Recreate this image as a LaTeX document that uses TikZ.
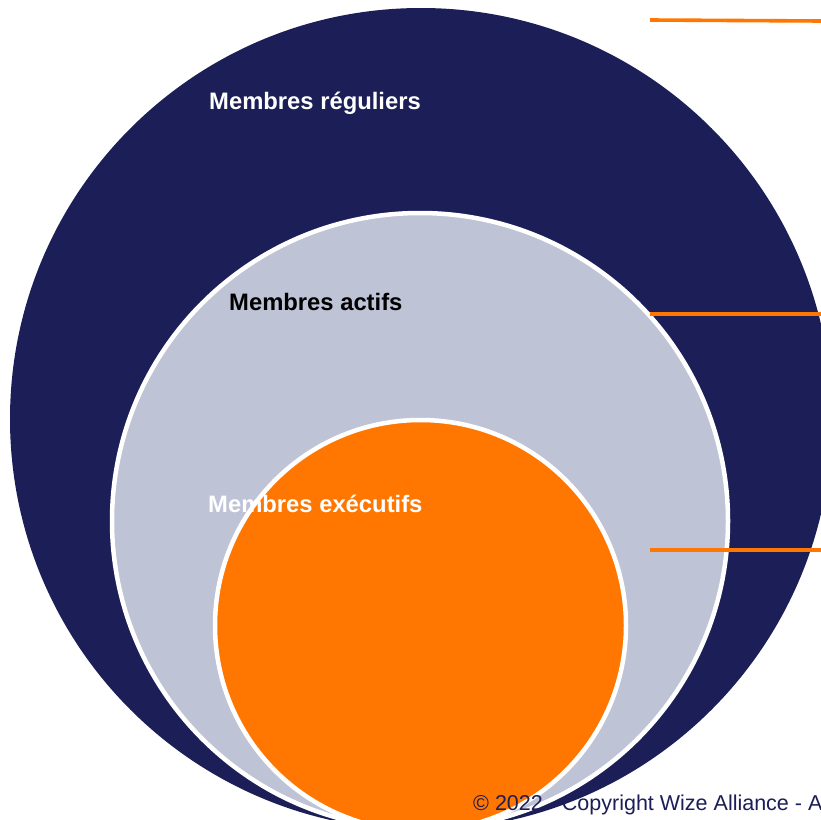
\documentclass[tikz,border=0pt]{standalone}
\usepackage{fontspec}
\setmainfont{Liberation Sans}
\definecolor{navy}{RGB}{27,30,87}
\definecolor{lav}{RGB}{190,195,214}
\definecolor{orng}{RGB}{255,119,0}
\tikzset{
  ring/.style={circle, inner sep=0pt, outer sep=0pt},
  lbl/.style={anchor=base west, inner sep=0pt, font=\fontsize{23.8}{28}\selectfont\bfseries},
  tick/.style={draw=orng, line width=3.6pt}
}
\begin{document}
\begin{tikzpicture}[x=1pt,y=-1pt]
\useasboundingbox (0,0) rectangle (821,819);
\clip (0,0) rectangle (821,819);
\fill[white] (0,0) rectangle (821,819);
\node[ring, fill=navy, minimum size=822pt] (outer) at (421,419) {};
\node[ring, fill=lav, draw=white, line width=4.5pt, minimum size=616pt] (middle) at (420,521) {};
\node[ring, fill=orng, draw=white, line width=4.5pt, minimum size=411pt] (inner) at (420.5,625.5) {};
\node[lbl, text=white] (treg) at (209,109) {Membres réguliers};
\node[lbl, text=black] (tact) at (229,310) {Membres actifs};
\node[lbl, text=white] (texe) at (208,512) {Membres exécutifs};
\coordinate (a1) at (650,20);
\coordinate (b1) at (821,21);
\coordinate (a2) at (650,314);
\coordinate (b2) at (821,314);
\coordinate (a3) at (650,550);
\coordinate (b3) at (821,550);
\draw[tick] (a1) -- (b1);
\draw[tick] (a2) -- (b2);
\draw[tick] (a3) -- (b3);
\node[anchor=base west, inner sep=0pt, text=navy, font=\fontsize{21.5}{26}\selectfont] (copy) at (473,810) {© 2022 - Copyright Wize Alliance - A};
\end{tikzpicture}
\end{document}
